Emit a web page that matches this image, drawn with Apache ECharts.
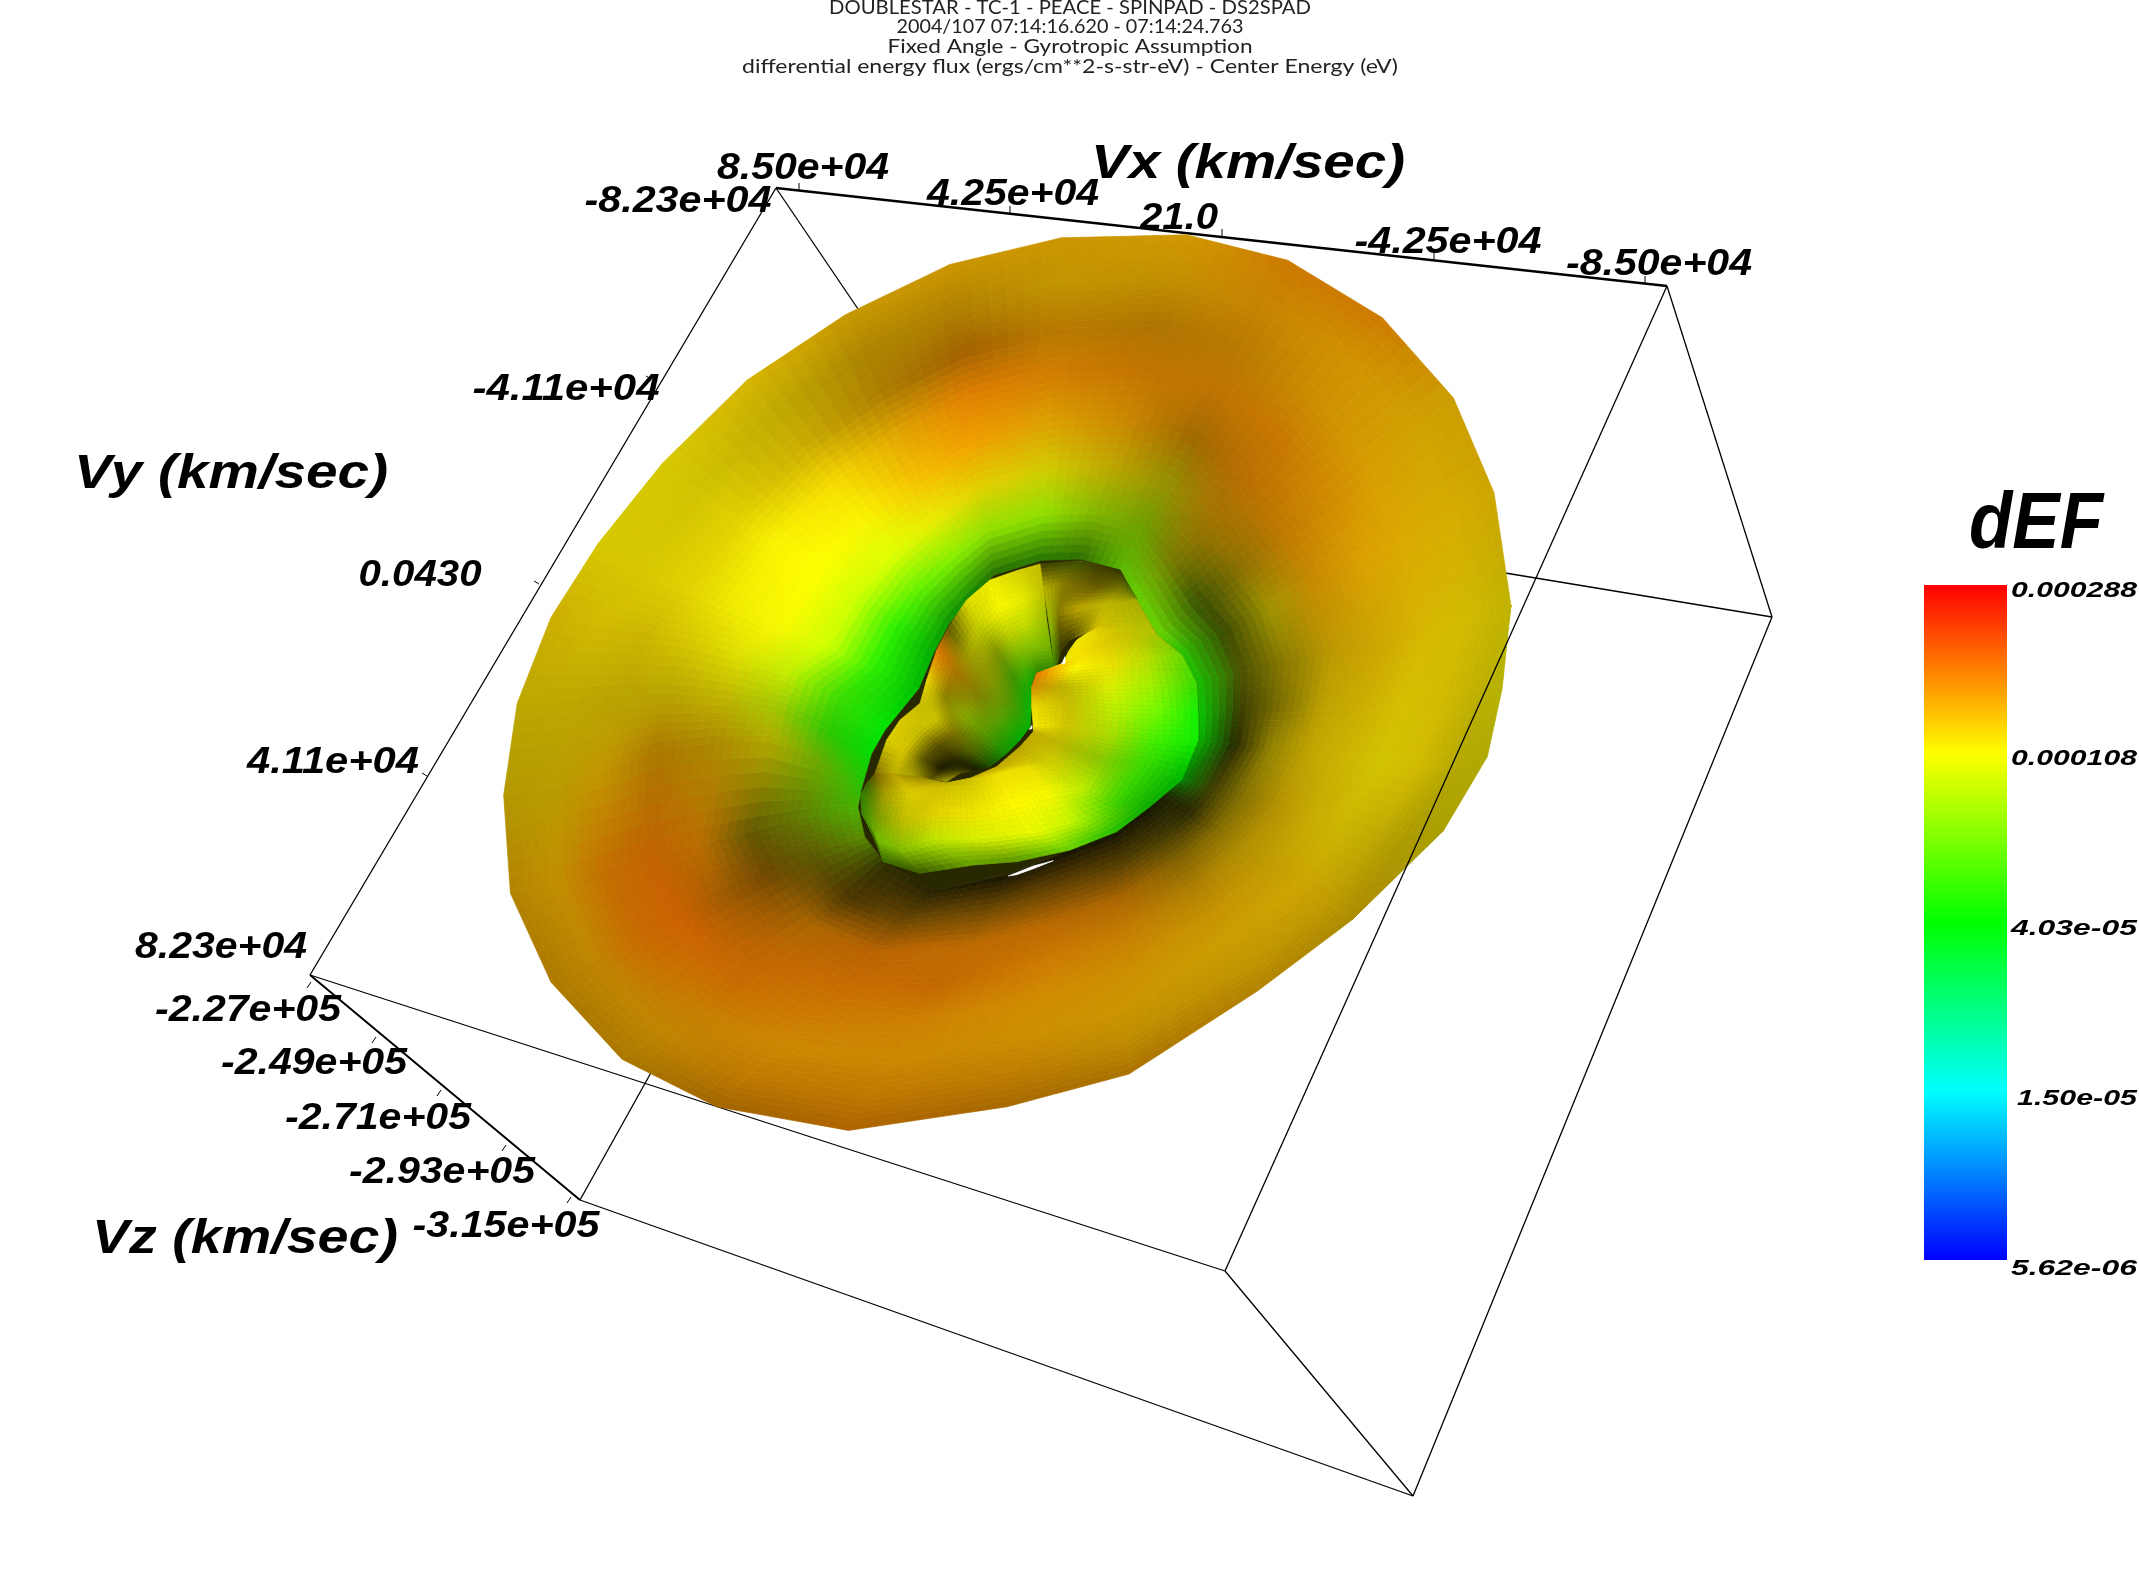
<!DOCTYPE html>
<html>
<head>
<meta charset="utf-8">
<title>DOUBLESTAR dEF</title>
<style>
html, body { margin: 0; padding: 0; background: #fff; }
#chart { width: 2139px; height: 1578px; }
</style>
<script src="https://cdn.jsdelivr.net/npm/echarts@6/dist/echarts.min.js"></script>
</head>
<body>
<div id="chart"></div>
<script>
// ---- data. dEF values are in units of 1e-5, shade is percent of full brightness

var titleLines = [
	'DOUBLESTAR - TC-1 - PEACE - SPINPAD - DS2SPAD',
	'2004/107 07:14:16.620 - 07:14:24.763',
	'Fixed Angle - Gyrotropic Assumption',
	'differential energy flux (ergs/cm**2-s-str-eV) - Center Energy (eV)'
];
var vxTicks = ['8.50e+04', '4.25e+04', '21.0', '-4.25e+04', '-8.50e+04'];
var vyTicks = ['-8.23e+04', '-4.11e+04', '0.0430', '4.11e+04', '8.23e+04'];
var vzTicks = ['-2.27e+05', '-2.49e+05', '-2.71e+05', '-2.93e+05', '-3.15e+05'];
var colorTicks = ['0.000288', '0.000108', '4.03e-05', '1.50e-05', '5.62e-06'];
var colorStops = ['#ff0000', '#ffff00', '#00ff00', '#00ffff', '#0000ff'];
var defMin = 0.562, defMax = 28.8;

// box corners
var boxA = [776, 188], boxB = [1667, 286], boxC = [310, 975], boxD = [580, 1200];
var boxE = [1413, 1496], boxF = [1225, 1271], boxG = [1772, 617], boxH = [978, 486];

// outer sheet, silhouette to inner lip, one list per radial line
var sheetXY = [
	[[860,30],[856,106],[852,183],[847,259],[843,341],[838,422],[834,499],[830,575]],
	[[1045,25],[1023,102],[1001,178],[979,255],[955,337],[932,420],[910,496],[888,573]],
	[[1195,68],[1160,141],[1126,214],[1091,287],[1054,366],[1016,444],[982,517],[947,590]],
	[[1335,165],[1284,232],[1233,298],[1182,365],[1128,436],[1073,508],[1022,574],[971,641]],
	[[1440,300],[1379,356],[1317,412],[1256,468],[1190,528],[1124,588],[1062,644],[1001,700]],
	[[1500,460],[1435,498],[1370,536],[1305,574],[1235,614],[1165,655],[1100,693],[1035,731]],
	[[1525,650],[1460,668],[1395,687],[1330,705],[1260,725],[1190,744],[1125,763],[1060,781]],
	[[1490,790],[1430,796],[1370,801],[1311,807],[1247,813],[1183,819],[1123,824],[1063,830]],
	[[1440,930],[1387,923],[1334,915],[1282,908],[1225,900],[1169,892],[1116,884],[1063,877]],
	[[1360,1060],[1315,1044],[1269,1028],[1224,1011],[1175,994],[1126,976],[1080,960],[1035,944]],
	[[1290,1180],[1251,1151],[1212,1121],[1172,1092],[1130,1060],[1088,1029],[1049,999],[1010,970]],
	[[1150,1300],[1128,1256],[1105,1213],[1083,1169],[1059,1123],[1036,1076],[1013,1033],[991,989]],
	[[960,1440],[957,1383],[955,1325],[952,1268],[950,1207],[947,1146],[945,1088],[942,1031]],
	[[780,1495],[793,1434],[806,1374],[819,1313],[833,1248],[847,1183],[860,1123],[873,1062]],
	[[545,1535],[578,1474],[612,1414],[645,1353],[681,1288],[717,1223],[751,1163],[784,1102]],
	[[350,1495],[395,1444],[440,1393],[485,1342],[533,1287],[581,1232],[626,1181],[671,1130]],
	[[210,1415],[265,1371],[319,1327],[374,1283],[432,1235],[491,1188],[545,1144],[600,1085]],
	[[105,1285],[168,1249],[231,1214],[294,1178],[362,1140],[429,1101],[492,1066],[570,1040]],
	[[45,1135],[114,1115],[184,1094],[253,1074],[327,1052],[401,1031],[471,1010],[560,990]],
	[[35,970],[110,955],[180,930],[260,895],[350,880],[430,880],[500,910],[565,960]],
	[[55,815],[130,808],[210,800],[280,798],[360,805],[440,820],[515,860],[580,900]],
	[[105,670],[175,685],[245,695],[310,705],[380,730],[460,760],[530,805],[600,860]],
	[[175,545],[241,579],[308,614],[375,648],[446,685],[517,721],[583,756],[650,790]],
	[[270,410],[326,455],[383,500],[439,544],[499,592],[559,640],[616,685],[672,730]],
	[[395,270],[437,327],[479,385],[521,442],[566,504],[611,565],[653,623],[695,680]],
	[[540,160],[567,227],[593,293],[620,360],[648,431],[677,502],[703,569],[730,635]],
	[[695,75],[704,149],[713,222],[722,296],[732,374],[742,453],[751,527],[760,600]]
];
var sheetDef = [
	[14,13.5,15,16,14,11,7.5,5.5],
	[14,14,15,16,15,12,8,6],
	[16,15,15,16,15,11,8,6.5],
	[16,14.5,14.5,16,16,14,10.5,6.5],
	[13.5,13.5,14,15,15.5,13,8,6.5],
	[13,13,13.5,14,14.5,11.5,9,5],
	[11.5,12,12.5,13,13,12,10,4.5],
	[11.5,12,12,12.5,12.5,12,10,4.2],
	[11.5,12,11.5,12,12.5,12,10,4.2],
	[12,12,12,12.5,13,12.5,10.8,4],
	[13,13,13,13,13,13,10.8,10],
	[14,13.5,13.5,14,14,13.5,12,10.8],
	[15,14,14,14.5,15.5,16,14,10.8],
	[15.5,15,14.5,15,16,16.5,15,12],
	[16.5,15.5,15,15.5,17,16.5,15,12],
	[15.5,15.5,15,16,17,17,15,12],
	[14.5,14.5,15.5,17,17,16,14.5,10.8],
	[14.5,14.5,17,18,16.5,15,10.8,7.5],
	[14,14,16.5,17.5,16,12,9,6],
	[12.5,12.5,13.5,14.5,13,11.3,7.5,5],
	[12,12,12,12,11.5,9,5,4],
	[12.5,12,12,11.5,10.8,9,5.3,4],
	[11.5,11.5,11.5,11,10.8,8.8,4.8,4],
	[11.5,11.5,11.5,11,10.8,8.8,4.8,4],
	[12.5,12,12.5,12,11,9.5,6,4.3],
	[13.5,13.5,14,14,13.5,10.8,7,4.5],
	[14,14,16,16.5,15,11.5,7.5,5.5]
];
var sheetShade = [
	[80,76,72,82,86,82,88,45],
	[82,76,68,76,80,74,72,42],
	[80,78,72,75,62,58,62,72],
	[80,82,80,78,72,62,48,82],
	[80,82,84,82,76,54,32,86],
	[80,84,86,86,78,62,28,78],
	[75,82,84,80,74,54,32,75],
	[73,82,84,80,74,48,24,78],
	[70,82,82,80,76,58,16,70],
	[67,75,80,78,70,52,24,50],
	[67,75,80,76,70,52,16,12],
	[70,76,80,78,68,50,24,8],
	[67,75,80,80,78,68,34,8],
	[65,75,80,82,80,72,40,8],
	[68,75,80,80,76,74,43,8],
	[63,75,80,80,78,72,42,14],
	[67,75,78,78,75,67,30,18],
	[68,75,78,80,62,42,36,55],
	[70,76,76,76,72,38,47,70],
	[70,72,76,67,67,70,67,74],
	[74,74,72,72,75,78,78,86],
	[80,82,80,84,88,94,86,90],
	[84,84,88,94,98,100,94,74],
	[84,82,88,98,100,100,94,66],
	[84,75,80,96,98,100,94,58],
	[78,67,67,88,96,92,94,50],
	[80,69,63,88,94,88,88,43]
];

// lower sheet that shows below the right edge
var skirtXY = [
	[[1525,650],[1525,650]],
	[[1490,790],[1512,790]],
	[[1440,930],[1490,905]],
	[[1360,1060],[1425,1030]],
	[[1290,1180],[1290,1180]]
];
var skirtDef = [[11.4,11.4],[11.4,11],[11.5,11.2],[12,11.4],[13,13]];
var skirtShade = [[75,75],[73,71],[70,69],[67,67],[67,67]];

// back of the hook, upper part of the hole
var hookXY = [
	[[660,72],[672,150],[690,270],[705,390]],
	[[780,62],[740,130],[715,210],[725,330]],
	[[840,75],[830,140],[770,205],[750,300]],
	[[900,92],[900,140],[860,190],[830,265]],
	[[950,175],[950,180],[950,180],[1010,285]]
];
var hookDef = [[10.8,11.3,8.3,6.3],[8.5,11.7,12,10.8],[10.8,11.9,12.1,10.8],[10.8,10.8,11.3,11.8],[7.4,9.3,10.8,9.8]];
var hookShade = [[24,75,75,51],[31,50,55,22],[24,39,75,24],[20,43,75,84],[51,59,67,78]];

// funnel in the hole, spokes run from the rim to the inner edge
var funnelXY = [
	[[660,72],[672,160],[680,240],[692,320],[705,390]],
	[[590,92],[605,180],[620,260],[635,330],[650,395]],
	[[510,120],[535,205],[565,285],[600,360],[635,430]],
	[[440,180],[480,260],[530,335],[585,415],[635,490]],
	[[385,262],[445,340],[505,410],[565,485],[630,560]],
	[[350,330],[410,395],[475,465],[535,530],[600,600]],
	[[320,420],[375,475],[430,530],[495,585],[560,640]],
	[[300,490],[350,535],[400,585],[455,635],[510,680]],
	[[240,540],[295,580],[350,620],[410,660],[470,690]],
	[[200,600],[255,630],[310,660],[365,685],[420,700]],
	[[165,700],[220,705],[275,712],[330,720],[380,725]]
];
var funnelDef = [
	[11.3,10.5,8.9,7.6,5.9],[11,10.5,9.5,7.8,5.7],[10.8,10.8,9.8,7.3,4.4],[11,10.3,9.3,6,4.2],
	[10.8,10.8,10.3,7.3,4.2],[17,14.5,10.8,7.3,4],[11.7,11.7,9,7.3,4.5],[11.3,11.3,11.8,8.9,5.6],
	[11.7,11.3,11.9,10.8,9],[11.3,11.8,11.3,10.8,10.8],[12.5,11.3,11.3,11.8,11.1]
];
var funnelShade = [
	[78,76,75,71,51],[84,94,86,75,55],[94,98,82,71,67],[90,82,59,59,71],
	[35,63,59,59,71],[90,67,51,63,67],[94,55,67,59,59],[78,82,47,39,31],
	[88,78,35,16,12],[86,86,35,10,35],[51,75,71,39,67]
];

// crescent body, inner edge to outer edge
var bodyXY = [
	[[745,335],[770,300],[800,280],[830,265],[860,265]],
	[[730,370],[790,340],[860,310],[930,275],[1010,285]],
	[[650,400],[760,385],[880,370],[990,345],[1085,345]],
	[[635,440],[740,440],[870,440],[1000,430],[1130,430]],
	[[635,500],[745,490],[880,505],[1010,510],[1135,520]],
	[[640,560],[740,560],[870,590],[1010,600],[1135,600]],
	[[640,575],[710,610],[840,660],[970,680],[1085,720]],
	[[600,620],[690,680],[790,750],[890,790],[990,800]],
	[[530,680],[620,680],[680,760],[760,850],[890,875]],
	[[450,715],[540,700],[590,790],[650,880],[750,930]],
	[[370,730],[450,740],[460,820],[470,900],[590,965]],
	[[290,710],[360,740],[350,820],[340,900],[460,975]],
	[[215,700],[270,760],[250,850],[240,930],[300,1000]],
	[[165,700],[195,760],[170,840],[170,900],[190,965]],
	[[165,700],[140,730],[122,765],[125,820],[160,880]]
];
var bodyDef = [
	[11.7,11.2,11.4,11.8,11.8],[10.8,11.9,11.8,11.3,9.4],[17.6,11,11.2,9.1,6.6],[14.8,11.3,10,7.8,5.2],
	[11.7,11.3,8.8,6.5,4.3],[11.3,11.3,8.6,5.3,4.3],[12,11.3,8,5.2,4],[12.1,10.8,8.8,5.3,4.3],
	[12.1,11.4,10.8,8.7,4.7],[12,11.4,11,10,6.5],[11.8,11.3,11.2,9.8,7.3],[12.1,11.7,11.6,9.1,7.5],
	[12.2,11.6,10.8,7.9,7.8],[12.5,11.5,8.5,7.5,7],[13.1,7.3,5.9,6.3,7.2]
];
var bodyShade = [
	[94,96,96,90,84],[96,98,88,78,78],[94,100,92,86,86],[82,75,94,94,86],
	[94,78,94,98,94],[98,82,86,94,94],[78,75,78,86,71],[75,84,94,82,67],
	[75,92,98,96,75],[78,94,100,98,82],[76,84,94,94,59],[55,82,90,90,63],
	[71,88,75,75,35],[47,67,63,75,43],[43,39,51,51,47]
];

// small gaps where the white page shows through
var gaps = [
	[[725,372],[735,350],[735,370]],
	[[628,568],[636,556],[636,566]],
	[[565,1008],[640,978],[700,962],[640,986],[590,1004]]
];

// ---- helpers

function defColor(v, shade) {
	var t = Math.log(v / defMin) / Math.log(defMax / defMin) * 4;
	t = Math.max(0, Math.min(3.999, t));
	var i = Math.floor(t), f = t - i, r, g, b;
	if (i === 0) { r = 0; g = f; b = 1; }
	else if (i === 1) { r = 0; g = 1; b = 1 - f; }
	else if (i === 2) { r = f; g = 1; b = 0; }
	else { r = 1; g = 1 - f; b = 0; }
	var s = shade / 100 * 255;
	return [r * s, g * s, b * s];
}

// one custom series for one mesh, each cell is shaded from its 4 corners
function meshSeries(grid, xy, def, shade, closed) {
	var cols = xy.length, rows = xy[0].length;
	var cells = [];
	for (var c = 0; c < (closed ? cols : cols - 1); c++) {
		for (var r = 0; r < rows - 1; r++) cells.push([c, r]);
	}
	var steps = 6;
	return {
		type: 'custom',
		xAxisIndex: grid, yAxisIndex: grid,
		silent: true, animation: false, clip: false, progressive: 0,
		data: cells,
		renderItem: function (params, api) {
			var c = api.value(0), r = api.value(1), c2 = (c + 1) % cols;
			var p = [xy[c][r], xy[c2][r], xy[c2][r + 1], xy[c][r + 1]].map(function (q) { return api.coord(q); });
			var k = [
				defColor(def[c][r], shade[c][r]), defColor(def[c2][r], shade[c2][r]),
				defColor(def[c2][r + 1], shade[c2][r + 1]), defColor(def[c][r + 1], shade[c][r + 1])
			];
			function mix(u, v, a0, a1, a2, a3) {
				return (a0 * (1 - u) + a1 * u) * (1 - v) + (a3 * (1 - u) + a2 * u) * v;
			}
			function at(u, v) {
				return [mix(u, v, p[0][0], p[1][0], p[2][0], p[3][0]), mix(u, v, p[0][1], p[1][1], p[2][1], p[3][1])];
			}
			var children = [];
			for (var i = 0; i < steps; i++) {
				for (var j = 0; j < steps; j++) {
					var u = (i + 0.5) / steps, v = (j + 0.5) / steps;
					var col = 'rgb(' + [0, 1, 2].map(function (n) {
						return Math.round(mix(u, v, k[0][n], k[1][n], k[2][n], k[3][n]));
					}).join(',') + ')';
					children.push({
						type: 'polygon',
						shape: { points: [at(i / steps, j / steps), at((i + 1) / steps, j / steps), at((i + 1) / steps, (j + 1) / steps), at(i / steps, (j + 1) / steps)] },
						style: { fill: col, stroke: col, lineWidth: 0.7 }
					});
				}
			}
			return { type: 'group', children: children };
		}
	};
}

function polygonSeries(grid, polys, fill) {
	return {
		type: 'custom',
		xAxisIndex: grid, yAxisIndex: grid,
		silent: true, animation: false, clip: false, progressive: 0,
		data: polys.map(function (p, i) { return [i]; }),
		renderItem: function (params, api) {
			return {
				type: 'polygon',
				shape: { points: polys[api.value(0)].map(function (q) { return api.coord(q); }) },
				style: { fill: fill, stroke: fill, lineWidth: 0.7 }
			};
		}
	};
}

function edgeSeries(edges, width) {
	return {
		type: 'custom',
		xAxisIndex: 0, yAxisIndex: 0,
		silent: true, animation: false, clip: false, progressive: 0,
		data: edges.map(function (e, i) { return [i]; }),
		renderItem: function (params, api) {
			var e = edges[api.value(0)], a = api.coord(e[0]), b = api.coord(e[1]);
			return {
				type: 'line',
				shape: { x1: a[0], y1: a[1], x2: b[0], y2: b[1] },
				style: { stroke: '#000', lineWidth: e[2] || width }
			};
		}
	};
}

// colour bar, its own grid with a log axis from the smallest to the largest dEF
function colorBarSeries() {
	return {
		type: 'custom',
		xAxisIndex: 3, yAxisIndex: 3,
		silent: true, animation: false, clip: false, progressive: 0,
		data: [[0]],
		renderItem: function (params, api) {
			var top = api.coord([0, defMax]), bottom = api.coord([1, defMin]);
			return {
				type: 'rect',
				shape: { x: top[0], y: top[1], width: bottom[0] - top[0], height: bottom[1] - top[1] },
				style: {
					fill: new echarts.graphic.LinearGradient(0, 0, 0, 1, colorStops.map(function (c, i) {
						return { offset: i / (colorStops.length - 1), color: c };
					}))
				}
			};
		}
	};
}

// text squeezed or stretched to the width it has in the picture
var measure = document.createElement('canvas').getContext('2d');
function textSeries(items) {
	return {
		type: 'custom',
		xAxisIndex: 0, yAxisIndex: 0,
		silent: true, animation: false, clip: false, progressive: 0,
		data: items.map(function (t, i) { return [i]; }),
		renderItem: function (params, api) {
			var t = items[api.value(0)], p = api.coord([t.x, t.y]);
			measure.font = t.font;
			return {
				type: 'text',
				x: p[0], y: p[1],
				scaleX: t.w / measure.measureText(t.text).width,
				style: { text: t.text, font: t.font, fill: t.fill || '#000', textAlign: 'center', textVerticalAlign: 'middle' }
			};
		}
	};
}

// ---- labels and ticks

var axisFont = 'italic bold 49px "Liberation Sans"';
var tickFont = 'italic bold 37px "Liberation Sans"';
var barFont = 'italic bold 22px "Liberation Sans"';
var headFont = '20px Lato';

function tickItems(names, xs, ys, ws) {
	return names.map(function (n, i) { return { text: n, x: xs[i], y: ys[i], w: ws[i], font: tickFont }; });
}

var labelItems = [].concat(
	titleLines.map(function (t, i) {
		return { text: t, x: 1070, y: [8, 27, 47, 67][i], w: [482, 347, 365, 656][i], font: headFont, fill: '#222' };
	}),
	[
		{ text: 'Vx (km/sec)', x: 1248, y: 164, w: 314, font: axisFont },
		{ text: 'Vy (km/sec)', x: 231, y: 474, w: 314, font: axisFont },
		{ text: 'Vz (km/sec)', x: 245, y: 1239, w: 306, font: axisFont },
		{ text: 'dEF', x: 2036, y: 526, w: 134, font: 'italic bold 80px "Liberation Sans"' }
	],
	tickItems(vxTicks, [803, 1013, 1179, 1448, 1659], [169, 195, 219, 243, 265], [172, 172, 78, 187, 186]),
	tickItems(vyTicks, [678, 566, 420, 333, 221], [202, 390, 576, 763, 948], [187, 187, 123, 172, 172]),
	tickItems(vzTicks, [248, 314, 378, 442, 506], [1011, 1064, 1119, 1173, 1227], [186, 186, 186, 186, 187]),
	colorTicks.map(function (t, i) {
		return { text: t, x: i === 3 ? 2077 : 2074, y: [591, 759, 929, 1099, 1269][i], w: i === 3 ? 120 : 126, font: barFont };
	})
);

var tickEdges = [
	[[799,191],[799,183]], [[1010,214],[1010,206]], [[1222,237],[1222,229]], [[1434,260],[1434,252]], [[1645,284],[1645,276]],
	[[651,379],[646,376]], [[539,584],[534,581]], [[427,776],[422,773]],
	[[311,982],[307,988]], [[376,1037],[372,1043]], [[441,1090],[437,1096]], [[506,1145],[502,1151]], [[571,1197],[567,1203]]
];

// ---- chart

var sheetLip = sheetXY.map(function (col) { return col[col.length - 1]; });

var series = [
	edgeSeries([
		[boxA, boxB, 2.4], [boxA, boxC], [boxA, boxH], [boxB, boxG], [boxC, boxD, 2], [boxC, boxF],
		[boxD, boxE], [boxD, boxH], [boxE, boxF], [boxE, boxG], [boxG, boxH]
	], 1.3),
	edgeSeries(tickEdges, 1),
	meshSeries(1, skirtXY, skirtDef, skirtShade, false),
	meshSeries(1, sheetXY, sheetDef, sheetShade, true),
	polygonSeries(1, [sheetLip], '#282800'),
	meshSeries(2, hookXY, hookDef, hookShade, false),
	meshSeries(2, funnelXY, funnelDef, funnelShade, false),
	meshSeries(2, bodyXY, bodyDef, bodyShade, false),
	polygonSeries(2, gaps, '#fff'),
	edgeSeries([[boxB, boxF]], 1.3),
	colorBarSeries(),
	textSeries(labelItems)
];

var hiddenAxis = { type: 'value', show: false, splitLine: { show: false } };
function xAxis(grid, max) { return Object.assign({}, hiddenAxis, { gridIndex: grid, min: 0, max: max }); }
function yAxis(grid, max) { return Object.assign({}, hiddenAxis, { gridIndex: grid, min: 0, max: max, inverse: true }); }

var option = {
	backgroundColor: '#fff',
	animation: false,
	grid: [
		{ left: 0, top: 0, width: 2139, height: 1578 },
		{ left: 480, top: 220, width: 1060, height: 930 },
		{ left: 820, top: 540, width: 440, height: 360 },
		{ left: 1924, top: 585, width: 83, height: 675 }
	],
	xAxis: [xAxis(0, 2139), xAxis(1, 1568), xAxis(2, 1320), xAxis(3, 1)],
	yAxis: [
		yAxis(0, 1578), yAxis(1, 1568), yAxis(2, 1080),
		{ type: 'log', show: false, gridIndex: 3, min: defMin, max: defMax, splitLine: { show: false } }
	],
	series: series
};

var chart = echarts.init(document.getElementById('chart'));
chart.setOption(option);
</script>
</body>
</html>
